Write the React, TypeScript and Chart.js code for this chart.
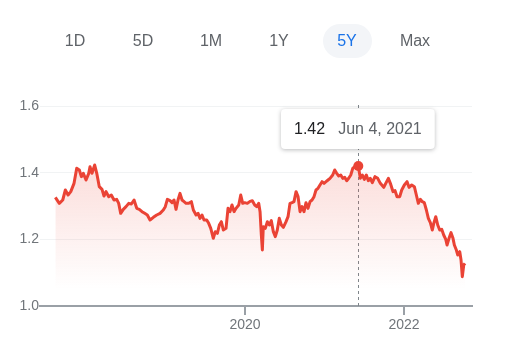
import React, { useEffect, useRef } from "react";
import { Chart, registerables } from "chart.js";

Chart.register(...registerables);

// decimal years (x) and closing values (y)
const dates: number[] = [
  2017.614, 2017.664, 2017.707, 2017.74, 2017.774, 2017.808, 2017.849, 2017.883, 2017.916, 2017.941,
  2017.966, 2018.0, 2018.034, 2018.05, 2018.075, 2018.109, 2018.135, 2018.167, 2018.201, 2018.226,
  2018.252, 2018.286, 2018.318, 2018.352, 2018.386, 2018.411, 2018.436, 2018.469, 2018.503, 2018.537,
  2018.57, 2018.604, 2018.638, 2018.67, 2018.704, 2018.738, 2018.771, 2018.805, 2018.847, 2018.889,
  2018.931, 2018.972, 2018.997, 2019.023, 2019.057, 2019.082, 2019.107, 2019.132, 2019.157, 2019.182,
  2019.208, 2019.233, 2019.258, 2019.292, 2019.325, 2019.35, 2019.384, 2019.409, 2019.434, 2019.459,
  2019.484, 2019.518, 2019.543, 2019.569, 2019.601, 2019.626, 2019.652, 2019.677, 2019.702, 2019.727,
  2019.761, 2019.786, 2019.811, 2019.836, 2019.862, 2019.887, 2019.921, 2019.946, 2019.971, 2019.996,
  2020.029, 2020.063, 2020.092, 2020.122, 2020.147, 2020.172, 2020.189, 2020.205, 2020.218, 2020.23,
  2020.255, 2020.281, 2020.306, 2020.331, 2020.356, 2020.381, 2020.406, 2020.431, 2020.457, 2020.482,
  2020.516, 2020.541, 2020.566, 2020.591, 2020.616, 2020.642, 2020.667, 2020.692, 2020.717, 2020.742,
  2020.767, 2020.792, 2020.818, 2020.843, 2020.868, 2020.893, 2020.918, 2020.943, 2020.969, 2020.994,
  2021.019, 2021.044, 2021.069, 2021.103, 2021.128, 2021.153, 2021.179, 2021.204, 2021.229, 2021.254,
  2021.279, 2021.304, 2021.33, 2021.355, 2021.387, 2021.425, 2021.45, 2021.475, 2021.501, 2021.526,
  2021.551, 2021.576, 2021.601, 2021.635, 2021.669, 2021.702, 2021.745, 2021.77, 2021.803, 2021.828,
  2021.862, 2021.887, 2021.912, 2021.946, 2021.971, 2022.004, 2022.038, 2022.063, 2022.097, 2022.13,
  2022.155, 2022.18, 2022.205, 2022.23, 2022.255, 2022.281, 2022.306, 2022.331, 2022.356, 2022.374,
  2022.399, 2022.424, 2022.449, 2022.474, 2022.499, 2022.525, 2022.541, 2022.566, 2022.591, 2022.616,
  2022.633, 2022.658, 2022.676, 2022.701, 2022.717, 2022.733, 2022.751, 2022.767,
];

const values: number[] = [
  1.326, 1.308, 1.318, 1.348, 1.333, 1.343, 1.368, 1.413, 1.408, 1.388,
  1.398, 1.378, 1.398, 1.418, 1.398, 1.423, 1.398, 1.358, 1.35, 1.33,
  1.343, 1.328, 1.333, 1.318, 1.32, 1.308, 1.278, 1.29, 1.298, 1.308,
  1.306, 1.318, 1.293, 1.29, 1.283, 1.278, 1.273, 1.258, 1.266, 1.273,
  1.278, 1.288, 1.298, 1.32, 1.316, 1.31, 1.318, 1.29, 1.318, 1.338,
  1.318, 1.313, 1.308, 1.308, 1.313, 1.288, 1.273, 1.278, 1.263, 1.273,
  1.258, 1.258, 1.248, 1.233, 1.203, 1.223, 1.218, 1.243, 1.253, 1.228,
  1.233, 1.293, 1.283, 1.303, 1.283, 1.293, 1.303, 1.333, 1.308, 1.31,
  1.308, 1.314, 1.316, 1.303, 1.298, 1.308, 1.283, 1.213, 1.168, 1.238,
  1.233, 1.253, 1.243, 1.256, 1.223, 1.208, 1.228, 1.263, 1.243, 1.236,
  1.253, 1.268, 1.308, 1.31, 1.313, 1.343, 1.328, 1.283, 1.298, 1.283,
  1.31, 1.293, 1.313, 1.318, 1.328, 1.348, 1.353, 1.363, 1.373, 1.368,
  1.373, 1.378, 1.383, 1.393, 1.408, 1.398, 1.39, 1.393, 1.383, 1.386,
  1.376, 1.383, 1.393, 1.413, 1.42, 1.42, 1.383, 1.393, 1.38, 1.393,
  1.376, 1.383, 1.37, 1.388, 1.383, 1.368, 1.356, 1.368, 1.383, 1.368,
  1.343, 1.346, 1.328, 1.328, 1.348, 1.363, 1.373, 1.356, 1.363, 1.358,
  1.333, 1.308, 1.32, 1.313, 1.31, 1.288, 1.263, 1.25, 1.228, 1.248,
  1.268, 1.243, 1.228, 1.23, 1.213, 1.2, 1.183, 1.203, 1.22, 1.203,
  1.183, 1.168, 1.153, 1.163, 1.138, 1.088, 1.123, 1.128,
];

const xTicks: number[] = [2020, 2022];
const yTicks: number[] = [1.0, 1.2, 1.4, 1.6];
const ranges: string[] = ["1D", "5D", "1M", "1Y", "5Y", "Max"];
const activeRange = "5Y";

const highlightDate = 2021.425;
const highlightValueLabel = "1.42";
const highlightDateLabel = "Jun 4, 2021";

const X_MIN = 2017.421;
const X_MAX = 2022.855;

const RED = "#ea4335";
const FONT = "Liberation Sans, Arial, sans-serif";

const highlightIndex = dates.indexOf(highlightDate);

const overlayPlugin = {
  id: "overlay",
  beforeDatasetsDraw(chart: any) {
    const { ctx, chartArea, scales } = chart;
    const px = Math.round(scales.x.getPixelForValue(highlightDate)) + 0.5;
    ctx.save();
    ctx.strokeStyle = "#80868b";
    ctx.lineWidth = 1;
    ctx.setLineDash([3, 3]);
    ctx.beginPath();
    ctx.moveTo(px, chartArea.top - 1);
    ctx.lineTo(px, chartArea.bottom);
    ctx.stroke();
    ctx.restore();
  },
  afterDraw(chart: any) {
    const { ctx, scales } = chart;
    const px = scales.x.getPixelForValue(highlightDate);
    ctx.save();
    ctx.font = `16px ${FONT}`;
    const w1 = ctx.measureText(highlightValueLabel).width;
    const w2 = ctx.measureText(highlightDateLabel).width;
    const pad = 13;
    const bw = pad + w1 + pad + w2 + pad;
    const bh = 40;
    const bx = Math.round(px - bw / 2);
    const by = 109;
    ctx.shadowColor = "rgba(60,64,67,0.35)";
    ctx.shadowBlur = 4;
    ctx.shadowOffsetY = 1;
    ctx.fillStyle = "#ffffff";
    ctx.beginPath();
    (ctx as any).roundRect(bx, by, bw, bh, 4);
    ctx.fill();
    ctx.shadowColor = "transparent";
    ctx.textBaseline = "middle";
    ctx.textAlign = "left";
    ctx.fillStyle = "#202124";
    ctx.fillText(highlightValueLabel, bx + pad, by + bh / 2 + 0.5);
    ctx.fillStyle = "#5f6368";
    ctx.fillText(highlightDateLabel, bx + pad + w1 + pad, by + bh / 2 + 0.5);
    ctx.restore();
  },
};

export default function App() {
  const canvasRef = useRef<HTMLCanvasElement | null>(null);

  useEffect(() => {
    if (!canvasRef.current) return;
    const points = dates.map((d, i) => ({ x: d, y: values[i] }));
    const chart = new Chart(canvasRef.current, {
      type: "line",
      data: {
        datasets: [
          {
            data: points,
            borderColor: RED,
            borderWidth: 3,
            borderJoinStyle: "round",
            tension: 0,
            fill: "start",
            backgroundColor: (c: any) => {
              const ch = c.chart;
              const y = ch.scales?.y;
              if (!ch.chartArea || !y) return "rgba(234,67,53,0.1)";
              const g = ch.ctx.createLinearGradient(0, y.getPixelForValue(1.42), 0, y.getPixelForValue(1.05));
              g.addColorStop(0, "rgba(234,67,53,0.18)");
              g.addColorStop(1, "rgba(234,67,53,0)");
              return g;
            },
            pointRadius: (c: any) => (c.dataIndex === highlightIndex ? 5 : 0),
            pointBackgroundColor: RED,
            pointBorderWidth: 0,
          },
        ],
      },
      options: {
        responsive: false,
        animation: false,
        events: [],
        layout: { padding: { top: 106, right: 40, left: 0, bottom: 0 } },
        plugins: { legend: { display: false }, tooltip: { enabled: false } },
        scales: {
          x: {
            type: "linear",
            min: X_MIN,
            max: X_MAX,
            afterFit: (s: any) => {
              s.height = 45;
            },
            afterBuildTicks: (s: any) => {
              s.ticks = xTicks.map((v) => ({ value: v }));
            },
            ticks: {
              callback: (v: any) => String(v),
              color: "#70757a",
              font: { size: 14, family: FONT },
              padding: 2,
              maxRotation: 0,
              autoSkip: false,
            },
            grid: {
              drawOnChartArea: false,
              drawTicks: true,
              tickLength: 9,
              color: "#9aa0a6",
              lineWidth: 2,
            },
            border: { display: true, color: "#9aa0a6", width: 2 },
          },
          y: {
            min: 1.0,
            max: 1.6,
            afterFit: (s: any) => {
              s.width = 40;
            },
            afterBuildTicks: (s: any) => {
              s.ticks = yTicks.map((v) => ({ value: v }));
            },
            ticks: {
              callback: (v: any) => Number(v).toFixed(1),
              color: "#70757a",
              font: { size: 14, family: FONT },
              padding: 1,
            },
            grid: { drawTicks: false, color: "#f1f3f4", lineWidth: 1 },
            border: { display: false },
          },
        },
      },
      plugins: [overlayPlugin],
    });
    return () => chart.destroy();
  }, []);

  const centers = [75, 143, 211, 279, 347, 415];

  return (
    <div style={{ position: "absolute", left: 0, top: 0, width: 512, height: 351, fontFamily: FONT, background: "#fff" }}>
      <canvas ref={canvasRef} width={512} height={351} style={{ position: "absolute", left: 0, top: 0, display: "block" }} />
      {ranges.map((r, i) => {
        const active = r === activeRange;
        return (
          <div
            key={r}
            style={{
              position: "absolute",
              left: centers[i] - 24.5,
              top: 24,
              width: 49,
              height: 34,
              lineHeight: "34px",
              borderRadius: 17,
              textAlign: "center",
              fontSize: 16,
              color: active ? "#1a73e8" : "#5f6368",
              background: active ? "#f3f5f8" : "transparent",
            }}
          >
            {r}
          </div>
        );
      })}
    </div>
  );
}
